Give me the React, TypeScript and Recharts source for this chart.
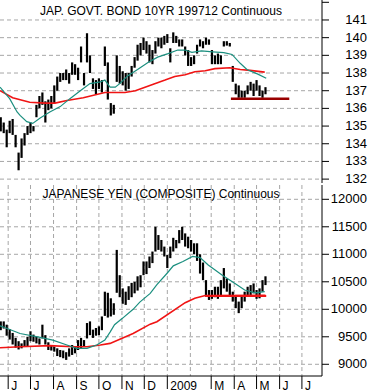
import React from 'react';
import { ComposedChart, Bar, Line, XAxis, YAxis, CartesianGrid, ReferenceLine } from 'recharts';

// x = calendar days counted from 1 Jun 2008
const days = [
  -10, -6, -2, 2, 6, 10, 14, 18, 22, 26, 30, 34, 38, 42, 46, 50, 54, 58, 62, 66,
  70, 74, 78, 82, 86, 90, 94, 98, 102, 106, 110, 114, 118, 122, 126, 130, 134, 138, 142, 146,
  150, 154, 158, 162, 166, 170, 174, 178, 182, 186, 190, 194, 198, 202, 206, 210, 214, 218, 222, 226,
  230, 234, 238, 242, 246, 250, 254, 258, 262, 266, 270, 274, 278, 282, 286, 290, 294, 298, 302, 306,
  310, 314, 318, 322, 326, 330, 334, 338, 342, 346,
];

const bondHigh = [
  135.5, 135.2, 134.8, 135.3, 135.4, 134.5, 133.5, 134.3, 134.6, 135.0, 135.2, 135.0, 136.2, 136.7, 136.9, 136.4, 136.5, 136.7, 137.3, 137.8,
  138.0, 138.0, 138.2, 138.0, 138.6, 138.5, 138.3, 139.5, 138.0, 140.25, 139.0, 137.7, 137.6, 137.7, 137.6, 139.5, 138.6, 136.3, 136.2, 139.0,
  138.4, 138.1, 138.0, 138.0, 138.4, 138.9, 139.6, 139.7, 140.0, 139.8, 139.6, 139.3, 139.8, 140.0, 140.0, 140.1, 140.2, 139.4, 140.3, 140.1,
  139.9, 139.9, 139.5, 139.3, 138.9, 139.0, 139.6, 139.9, 139.8, 140.0, 139.9, 139.3, 139.0, 139.1, 139.0, 139.8, 139.8, 139.7, 138.4, 137.4,
  137.3, 137.0, 137.0, 137.3, 137.5, 137.4, 137.6, 137.3, 137.0, 137.2,
];
const bondLow = [
  134.7, 134.6, 133.8, 134.6, 134.5, 133.8, 132.5, 133.2, 133.9, 134.5, 134.6, 134.7, 135.5, 136.0, 136.2, 135.2, 135.9, 136.0, 136.3, 137.0,
  137.5, 137.6, 137.6, 137.4, 137.9, 137.9, 137.6, 138.6, 137.3, 138.6, 138.0, 137.1, 136.8, 137.1, 136.9, 138.4, 136.5, 135.6, 135.7, 137.5,
  137.4, 137.3, 137.0, 137.1, 137.8, 138.3, 138.7, 139.0, 139.3, 139.1, 138.6, 138.5, 139.1, 139.5, 139.4, 139.6, 139.7, 138.6, 139.7, 139.7,
  139.5, 139.5, 139.0, 138.4, 138.4, 138.5, 139.1, 139.5, 139.4, 139.6, 139.6, 138.5, 138.5, 138.5, 138.5, 139.5, 139.55, 139.5, 137.5, 136.8,
  136.6, 136.6, 136.6, 136.8, 137.0, 136.7, 137.0, 136.7, 136.6, 136.8,
];

const yenHigh = [
  9780, 9780, 9720, 9640, 9570, 9480, 9420, 9380, 9440, 9500, 9600, 9540, 9500, 9470, 9720, 9530, 9400, 9350, 9320, 9290,
  9260, 9250, 9220, 9290, 9350, 9320, 9440, 9480, 9440, 9750, 9780, 9630, 9660, 9690, 9870, 10320, 10300, 10200, 10110, 11080,
  10620, 10380, 10320, 10420, 10480, 10500, 10600, 10620, 10870, 10870, 10960, 11050, 11500, 11350, 11260, 11140, 10990, 11140, 11300, 11260,
  11440, 11500, 11380, 11320, 11260, 11200, 11200, 11000, 10850, 10530, 10350, 10350, 10410, 10410, 10530, 10750, 10560, 10470, 10320, 10230,
  10140, 10230, 10320, 10410, 10440, 10470, 10350, 10380, 10530, 10600,
];
const yenLow = [
  9620, 9650, 9520, 9450, 9360, 9300, 9270, 9290, 9320, 9330, 9420, 9410, 9380, 9360, 9470, 9360, 9260, 9250, 9230, 9150,
  9130, 9110, 9080, 9140, 9170, 9200, 9260, 9290, 9320, 9470, 9530, 9480, 9520, 9530, 9620, 9880, 9850, 9870, 9900, 10300,
  10220, 10100, 10080, 10170, 10220, 10290, 10340, 10400, 10620, 10640, 10750, 10840, 11050, 11080, 11050, 10960, 10750, 10930, 11050, 11110,
  11200, 11260, 11140, 11110, 11050, 11000, 10880, 10650, 10530, 10230, 10170, 10190, 10220, 10190, 10250, 10380, 10320, 10260, 10140, 10020,
  9930, 10020, 10140, 10230, 10230, 10290, 10190, 10200, 10320, 10440,
];

// moving averages
const bondFastDays = [-11, 2, 12, 16, 25, 33, 43, 56, 70, 83, 97, 110, 124, 130, 137, 144, 150, 161, 174, 188, 201, 215, 228, 238, 247, 260, 275, 290, 301, 312, 321, 335, 347];
const bondFast = [137.2, 136.55, 135.8, 135.6, 135.25, 135.15, 135.45, 135.8, 136.1, 136.55, 137.0, 137.4, 137.5, 137.6, 137.2, 137.2, 137.4, 137.85, 138.2, 138.6, 138.9, 139.1, 139.3, 139.3, 139.17, 139.25, 139.2, 139.15, 139.05, 138.55, 138.2, 137.95, 137.7];
const bondSlowDays = [-11, 6, 29, 50, 63, 79, 101, 130, 157, 171, 184, 197, 211, 224, 238, 251, 265, 278, 298, 312, 325, 345];
const bondSlow = [137.0, 136.6, 136.35, 136.3, 136.3, 136.45, 136.6, 136.9, 136.9, 137.0, 137.2, 137.4, 137.6, 137.8, 137.9, 138.07, 138.13, 138.25, 138.3, 138.2, 138.15, 138.05];

const yenFastDays = [-11, -4, 16, 43, 60, 79, 92, 106, 119, 130, 137, 143, 154, 168, 177, 191, 200, 214, 222, 235, 248, 258, 269, 288, 305, 318, 332, 345];
const yenFast = [9700, 9665, 9560, 9490, 9440, 9350, 9290, 9290, 9350, 9440, 9585, 9720, 9840, 10000, 10130, 10290, 10450, 10660, 10790, 10870, 10960, 10940, 10805, 10620, 10470, 10350, 10300, 10320];
const yenSlowDays = [-11, 16, 56, 87, 106, 124, 137, 168, 191, 200, 238, 251, 265, 346];
const yenSlow = [9300, 9320, 9340, 9320, 9320, 9350, 9380, 9560, 9730, 9775, 10120, 10200, 10250, 10255];

// drawn support lines
const bondSupport = { from: 299.5, to: 378, value: 136.55 };
const yenSupport = { from: 265, to: 347, value: 10240 };

const monthTicks = [0, 30, 61, 92, 122, 153, 183, 214, 245, 273, 304, 334, 365, 395];
const monthLabels = ['J', 'J', 'A', 'S', 'O', 'N', 'D', '2009', '', 'M', 'A', 'M', 'J', 'J'];

const bondTicks = [132, 133, 134, 135, 136, 137, 138, 139, 140, 141, 142];
const bondGrid = [132, 133, 134, 135, 136, 137, 138, 139, 140, 141];
const yenTicks = [9000, 9500, 10000, 10500, 11000, 11500, 12000];

const bars = days.map((d, i) => ({ d, bond: [bondLow[i], bondHigh[i]], yen: [yenLow[i], yenHigh[i]] }));
const toLine = (ds: number[], vs: number[]) => ds.map((d, i) => ({ d, v: vs[i] }));

const X_DOMAIN = [-11, 422];
const FONT = '"Liberation Sans", Arial, sans-serif';
const TEAL = '#1b8f7f';
const RED = '#f01414';
const GRID = '#a6a6a6';
const BAR_W = 2.2;

// price bar: a fixed-width high-low stroke centred on the band the library gives
const PriceBar = (p: any) => {
  if (p.height == null || p.width == null) return null;
  const cx = p.x + p.width / 2;
  return <rect x={cx - BAR_W / 2} y={p.y} width={BAR_W} height={Math.max(p.height, 1)} fill="#000" />;
};

const PriceTick = ({ x, y, payload, skip }: any) => {
  if (payload.value === skip) return null;
  return (
    <text x={x + 36} y={y + 4} textAnchor="end" fontSize={13} fontFamily={FONT} fill="#000">
      {payload.value}
    </text>
  );
};

const MonthTick = ({ x, y, index }: any) => {
  const label = monthLabels[index];
  if (!label) return null;
  return (
    <g>
      <line x1={x} x2={x} y1={y - 13} y2={y} stroke="#000" />
      <text x={x + 3} y={y + 1} textAnchor="start" fontSize={12} fontFamily={FONT} fill="#000">
        {label}
      </text>
    </g>
  );
};

const titleStyle: React.CSSProperties = {
  position: 'absolute', left: 0, width: 322, textAlign: 'center',
  fontFamily: FONT, fontSize: 12, lineHeight: '14px', color: '#000', pointerEvents: 'none',
};

export default function App() {
  return (
    <div style={{ position: 'absolute', left: 0, top: 0, width: 371, height: 392, background: '#fff' }}>
      <div style={{ position: 'absolute', left: 0, top: 184 }}>
        <ComposedChart width={371} height={208} data={bars} margin={{ top: 1, right: 0, bottom: 0, left: 0 }}>
          <CartesianGrid stroke={GRID} strokeDasharray="4 3" horizontalValues={yenTicks} verticalValues={monthTicks} />
          <XAxis dataKey="d" type="number" domain={X_DOMAIN} allowDataOverflow ticks={monthTicks} interval={0}
            height={16} tickSize={13} tickMargin={0} tickLine={false} axisLine={{ stroke: '#000' }}
            tick={<MonthTick />} />
          <YAxis orientation="right" width={49} type="number" domain={[8787, 12260]} allowDataOverflow
            ticks={yenTicks} interval={0} tickSize={7} tickLine={{ stroke: '#000' }} axisLine={{ stroke: '#000' }}
            tick={<PriceTick />} />
          <Bar dataKey="yen" fill="#000" shape={<PriceBar />} isAnimationActive={false} />
          <Line data={toLine(yenSlowDays, yenSlow)} dataKey="v" stroke={RED} strokeWidth={1.6} dot={false} isAnimationActive={false} />
          <Line data={toLine(yenFastDays, yenFast)} dataKey="v" stroke={TEAL} strokeWidth={1.2} dot={false} isAnimationActive={false} />
          <ReferenceLine segment={[{ x: yenSupport.from, y: yenSupport.value }, { x: yenSupport.to, y: yenSupport.value }]}
            stroke={RED} strokeWidth={2} />
        </ComposedChart>
      </div>
      <div style={{ position: 'absolute', left: 0, top: 0 }}>
        <ComposedChart width={371} height={192} data={bars} margin={{ top: 0, right: 0, bottom: 9, left: 0 }}>
          <CartesianGrid stroke={GRID} strokeDasharray="4 3" horizontalValues={bondGrid} verticalValues={monthTicks} />
          <XAxis dataKey="d" type="number" domain={X_DOMAIN} allowDataOverflow ticks={monthTicks}
            height={0} tick={false} tickLine={false} axisLine={{ stroke: '#000' }} />
          <YAxis orientation="right" width={49} type="number" domain={[131.78, 142.13]} allowDataOverflow
            ticks={bondTicks} interval={0} tickSize={7} tickLine={{ stroke: '#000' }} axisLine={{ stroke: '#000' }}
            tick={<PriceTick skip={142} />} />
          <Bar dataKey="bond" fill="#000" shape={<PriceBar />} isAnimationActive={false} />
          <Line data={toLine(bondSlowDays, bondSlow)} dataKey="v" stroke={RED} strokeWidth={1.6} dot={false} isAnimationActive={false} />
          <Line data={toLine(bondFastDays, bondFast)} dataKey="v" stroke={TEAL} strokeWidth={1.2} dot={false} isAnimationActive={false} />
          <ReferenceLine segment={[{ x: bondSupport.from, y: bondSupport.value }, { x: bondSupport.to, y: bondSupport.value }]}
            stroke="#990000" strokeWidth={2.5} />
        </ComposedChart>
      </div>
      <div style={{ ...titleStyle, top: 4 }}>JAP. GOVT. BOND 10YR 199712 Continuous</div>
      <div style={{ ...titleStyle, top: 187 }}>JAPANESE YEN (COMPOSITE) Continuous</div>
    </div>
  );
}
